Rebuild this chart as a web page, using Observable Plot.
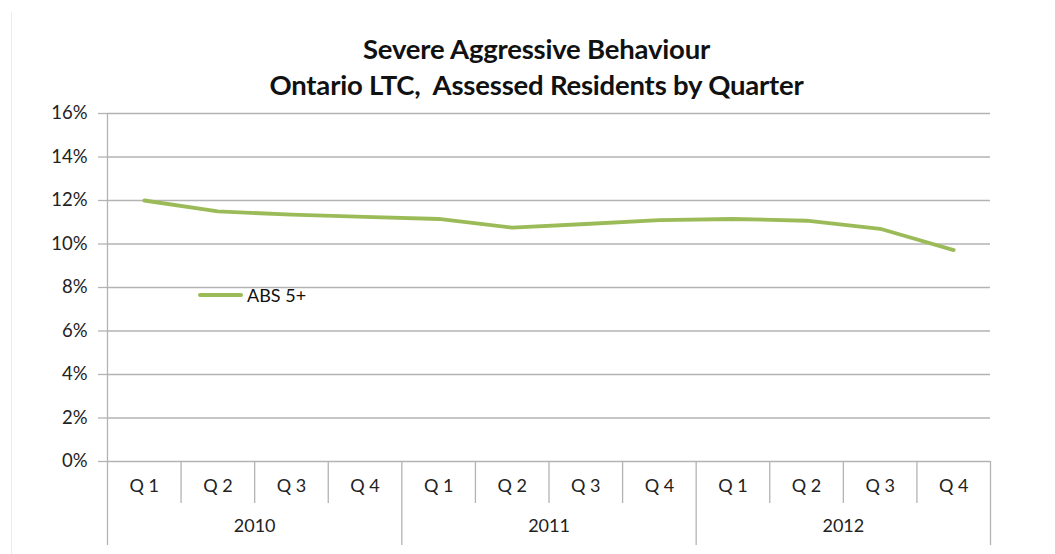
<!DOCTYPE html>
<html>
<head>
<meta charset="utf-8">
<script src="https://cdn.jsdelivr.net/npm/d3@7"></script>
<script src="https://cdn.jsdelivr.net/npm/@observablehq/plot@0.6"></script>
<style>
  html, body { margin: 0; padding: 0; background: #fff; }
  #wrap { position: relative; width: 1055px; height: 554px; font-family: Lato, "Open Sans", sans-serif; color: #222; }
  #border { position: absolute; left: 11px; top: 12px; width: 1px; height: 542px; background: #ececec; }
  #title { height: 95px; box-sizing: border-box; padding-top: 31px; padding-left: 18px; text-align: center; font-weight: bold; font-size: 27.5px; line-height: 36px; color: #111; letter-spacing: -0.2px; white-space: nowrap; }
  #chart svg { overflow: visible; }
  #legend { position: absolute; left: 198px; top: 284px; display: flex; align-items: center; font-size: 18px; color: #111; }
  #legend .sw { width: 45px; height: 4px; background: #9bbb59; border-radius: 2px; margin-right: 4px; }
</style>
</head>
<body>
<div id="wrap">
  <div id="border"></div>
  <div id="title">Severe Aggressive Behaviour<br>Ontario LTC,&nbsp; Assessed Residents by Quarter</div>
  <div id="chart"></div>
  <div id="legend"><div class="sw"></div><span>ABS 5+</span></div>
</div>
<script>
const years = ["2010", "2011", "2012"];
const quarters = ["Q 1", "Q 2", "Q 3", "Q 4"];
const seriesName = "ABS 5+";
const values = [12.0, 11.5, 11.35, 11.25, 11.15, 10.75, 10.92, 11.1, 11.15, 11.07, 10.7, 9.72];
const yTicks = [0, 2, 4, 6, 8, 10, 12, 14, 16];

const rows = values.map((v, i) => ({
  i, value: v,
  year: years[Math.floor(i / quarters.length)],
  quarter: quarters[i % quarters.length]
}));
const n = rows.length;
const quarterBounds = d3.range(1, n).filter(k => k % quarters.length !== 0);
const yearBounds = d3.range(0, n + 1, quarters.length);
const yearRows = years.map((y, k) => ({ year: y, center: k * quarters.length + quarters.length / 2 }));

const gridColor = "#b3b3b3";

const chart = Plot.plot({
  width: 1055,
  height: 459,
  marginTop: 18,
  marginBottom: 93,
  marginLeft: 107,
  marginRight: 65,
  style: { fontFamily: "Lato, 'Open Sans', sans-serif", fontSize: "18px", color: "#222", background: "transparent" },
  x: { type: "linear", domain: [0, n], axis: null, label: null },
  y: { domain: [0, 16], axis: null, label: null },
  marks: [
    Plot.gridY(yTicks, { stroke: gridColor, strokeOpacity: 1, strokeWidth: 1.3 }),
    Plot.axisY(yTicks, { tickSize: 9, tickPadding: 11, stroke: gridColor, strokeWidth: 1.3, tickFormat: d => d + "%", fill: "#222", fontSize: 18.5, label: null }),
    Plot.ruleX([0], { y1: 0, y2: 16, stroke: gridColor, strokeWidth: 1.3 }),
    Plot.axisX(quarterBounds, { tickSize: 42, stroke: gridColor, strokeWidth: 1.3, tickFormat: () => "", label: null }),
    Plot.axisX(yearBounds, { tickSize: 84, stroke: gridColor, strokeWidth: 1.3, tickFormat: () => "", label: null }),
    Plot.text(rows, { x: d => d.i + 0.5, text: "quarter", frameAnchor: "bottom", dy: 30, fill: "#222", fontSize: 18 }),
    Plot.text(yearRows, { x: "center", text: "year", frameAnchor: "bottom", dy: 70, fill: "#222", fontSize: 18 }),
    Plot.line(rows, { x: d => d.i + 0.5, y: "value", stroke: "#9bbb59", strokeWidth: 3.8, strokeLinecap: "round", strokeLinejoin: "round" })
  ]
});
document.getElementById("chart").appendChild(chart);
</script>
</body>
</html>
